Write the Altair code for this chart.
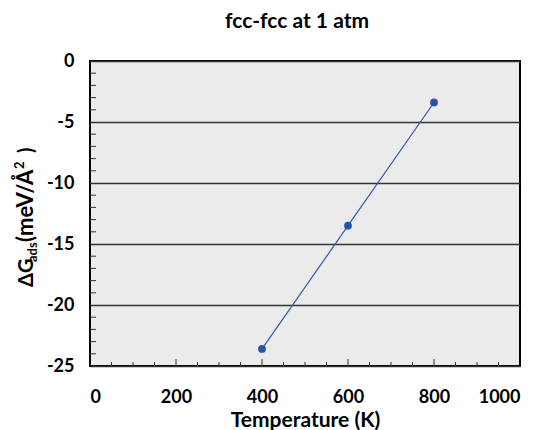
import altair as alt
import pandas as pd

# ---- data ----
temperatures = [400, 600, 800]
delta_g = [-23.6, -13.5, -3.4]

x_ticks = [0, 200, 400, 600, 800, 1000]
y_ticks = [-25, -20, -15, -10, -5, 0]
x_minor = [50, 100, 150, 250, 300, 350, 450, 500, 550, 650, 700, 750, 850, 900, 950]
x_major_inner = [200, 400, 600, 800]
y_minor = [-24, -23, -22, -21, -19, -18, -17, -16, -14, -13, -12, -11,
           -9, -8, -7, -6, -4, -3, -2, -1]

title_text = "fcc-fcc at 1 atm"
x_title = "Temperature (K)"
y_title_parts = ["ΔG", "ads", "(meV/Å", "2", ")"]

FONT = "Lato"
W, H = 430, 305
LABEL_EXPR = "replace(datum.label, '\u2212', '-')"

df = pd.DataFrame({"T": temperatures, "G": delta_g})
xs = alt.Scale(domain=[0, 1000], nice=False)
ys = alt.Scale(domain=[-25, 0], nice=False)

base = alt.Chart(df)

line = base.mark_line(color="#3458a8", strokeWidth=1.2).encode(
    x=alt.X("T:Q", scale=xs,
            axis=alt.Axis(values=x_ticks, grid=False, ticks=False, domain=False, format="d",
                          labelFontSize=18, labelFontWeight="bold", labelFont=FONT,
                          labelColor="black", labelPadding=22,
                          title=x_title, titleFontSize=21, titleFont=FONT,
                          titleFontWeight="bold", titleColor="black",
                          titleY=60, titleBaseline="alphabetic")),
    y=alt.Y("G:Q", scale=ys,
            axis=alt.Axis(values=y_ticks, grid=True, gridColor="#333333", gridWidth=1.5,
                          ticks=False, domain=False, format="d", labelExpr=LABEL_EXPR,
                          labelFontSize=18, labelFontWeight="bold", labelFont=FONT,
                          labelColor="black", labelPadding=16, title=None)),
)
points = base.mark_point(filled=True, color="#2453a8", size=60, opacity=1).encode(
    x=alt.X("T:Q", scale=xs), y=alt.Y("G:Q", scale=ys)
)

xminor = alt.Chart(pd.DataFrame({"t": x_minor})).mark_rule(color="#333333", strokeWidth=1).encode(
    x=alt.X("t:Q", scale=xs), y=alt.value(H), y2=alt.value(H - 4)
)
xmajor = alt.Chart(pd.DataFrame({"t": x_major_inner})).mark_rule(color="#333333", strokeWidth=1).encode(
    x=alt.X("t:Q", scale=xs), y=alt.value(H), y2=alt.value(H - 7)
)
yminor = alt.Chart(pd.DataFrame({"v": y_minor})).mark_rule(color="#333333", strokeWidth=1).encode(
    y=alt.Y("v:Q", scale=ys), x=alt.value(0), x2=alt.value(6)
)

ytitle_layers = []
sizes = [20, 13, 22, 13, 20]
dxs = [0, 25, 45, 118, 134]
dys = [0, 4, 0, -9, 0]
for i, part in enumerate(y_title_parts):
    ytitle_layers.append(
        alt.Chart(pd.DataFrame({"txt": [part]})).mark_text(
            angle=270, align="left", baseline="alphabetic", font=FONT, fontWeight="bold",
            fontSize=sizes[i], color="black", dx=dxs[i], dy=dys[i]
        ).encode(text="txt:N", x=alt.value(-57), y=alt.value(226))
    )

chart = alt.layer(line, points, xminor, xmajor, yminor, *ytitle_layers).properties(
    width=W, height=H,
    title=alt.Title(title_text, fontSize=21, font=FONT, fontWeight="bold", color="black",
                    dx=-8, offset=20),
    padding={"left": 82, "top": 53, "right": 11, "bottom": 64},
    autosize=alt.AutoSizeParams(type="none"),
    background="white",
).configure_view(
    fill="#ebebeb", stroke="black", strokeWidth=2
)

chart.save("out.html", embed_options={"renderer": "svg", "actions": False})
